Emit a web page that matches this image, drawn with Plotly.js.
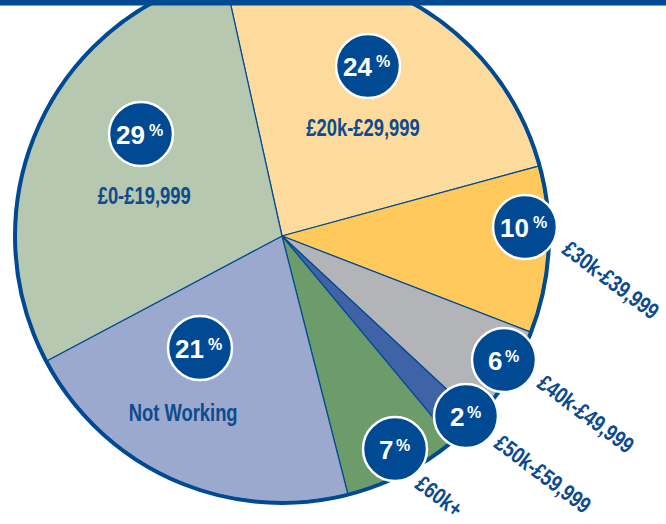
<!DOCTYPE html>
<html><head><meta charset="utf-8">
<script src="https://cdn.plot.ly/plotly-3.0.1.min.js"></script>
<style>
html,body{margin:0;padding:0;overflow:hidden;background:#fff;width:666px;height:524px}
#chart{position:absolute;left:0;top:-30px;width:666px;height:560px}
</style>
</head><body><div id="chart"></div>
<script>
// ---- data ----
const categories = ['£20k-£29,999','£30k-£39,999','£40k-£49,999','£50k-£59,999','£60k+','Not Working','£0-£19,999'];
const values = [24, 10, 6, 2, 7, 21, 29];
const colors = ['#FDDB9C','#FFC95B','#B3B4B8','#3F63A6','#6C9C69','#9AA9CD','#B6C8AF'];

// ---- label placement (window pixels) ----
const badgePos = [[368,66],[525,227],[504,360],[466,416],[395,449],[200,348],[141,134]];
const namePos  = [[363,128],[611,280],[586,414],[543,474],[439,496],[183,413],[144,196]];
const nameAngle = [0,37,37,37,37,0,0];

const W = 666, H = 560, OFF = 30;
const px = x => x / W;
const py = y => (H - (y + OFF)) / H;
const CX = 282, CY = 236, R = 266;
const navy = '#004A93';

const trace = {
  type: 'pie',
  values: values,
  labels: categories,
  marker: {colors: colors, line: {color: navy, width: 1.2}},
  sort: false,
  direction: 'clockwise',
  rotation: -12.5,
  textinfo: 'none',
  hoverinfo: 'none',
  showlegend: false,
  domain: {x: [px(CX - R), px(CX + R)], y: [py(CY + R), Math.min(1, py(CY - R))]}
};

const shapes = [{
  type: 'circle', xref: 'paper', yref: 'paper',
  xsizemode: 'pixel', ysizemode: 'pixel',
  xanchor: px(CX), yanchor: py(CY),
  x0: -R - 1, x1: R + 1, y0: -R - 1, y1: R + 1,
  line: {color: navy, width: 4}, fillcolor: 'rgba(0,0,0,0)'
}];
const annotations = [];
const nameIdx = [];
const numFont = {family: 'Liberation Sans, Arial, sans-serif', size: 26, color: '#ffffff', weight: 'bold'};
const pctFont = {family: 'Liberation Sans, Arial, sans-serif', size: 16, color: '#ffffff', weight: 'bold'};
const nameFont = {family: 'Liberation Sans, Arial, sans-serif', size: 23, color: '#0D4A8E', weight: 'bold'};

values.forEach((v, i) => {
  const [bx, by] = badgePos[i];
  const oneDigit = String(v).length === 1;
  shapes.push({
    type: 'circle', xref: 'paper', yref: 'paper',
    xsizemode: 'pixel', ysizemode: 'pixel',
    xanchor: px(bx), yanchor: py(by),
    x0: -32, x1: 32, y0: -32, y1: 32,
    fillcolor: navy, line: {color: '#ffffff', width: 2.5}
  });
  annotations.push({xref: 'paper', yref: 'paper', x: px(bx + (oneDigit ? -9 : -11)), y: py(by + 1), text: String(v),
    showarrow: false, xanchor: 'center', yanchor: 'middle', font: numFont});
  annotations.push({xref: 'paper', yref: 'paper', x: px(bx + (oneDigit ? 8 : 15)), y: py(by - 4), text: '%',
    showarrow: false, xanchor: 'center', yanchor: 'middle', font: pctFont});
  const [nx, ny] = namePos[i];
  nameIdx.push(annotations.length);
  annotations.push({xref: 'paper', yref: 'paper', x: px(nx), y: py(ny), text: categories[i],
    showarrow: false, xanchor: 'center', yanchor: 'middle', textangle: nameAngle[i], font: nameFont});
});

shapes.push({type: 'rect', xref: 'paper', yref: 'paper', x0: 0, x1: 1, y0: py(5.5), y1: py(0),
  fillcolor: navy, line: {width: 0}});

const layout = {
  width: W, height: H,
  margin: {l: 0, r: 0, t: 0, b: 0},
  paper_bgcolor: '#ffffff',
  shapes: shapes,
  annotations: annotations
};
Plotly.newPlot('chart', [trace], layout, {displayModeBar: false, staticPlot: true}).then(gd => {
  // condense the category labels (reference uses a narrow bold face)
  nameIdx.forEach(k => {
    const t = gd.querySelector('.annotation[data-index="' + k + '"] text.annotation-text');
    if (t) {
      t.style.transformBox = 'fill-box';
      t.style.transformOrigin = 'center';
      t.style.transform = 'scaleX(0.8)';
    }
  });
});
</script>
</body></html>
